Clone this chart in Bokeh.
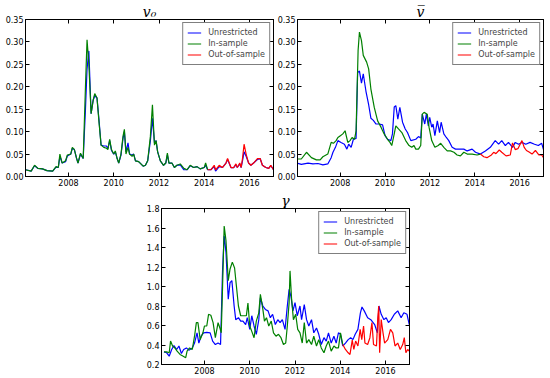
from bokeh.plotting import figure
from bokeh.models import (Range1d, FixedTicker, PrintfTickFormatter, LinearAxis,
                          Legend, LegendItem, Spacer)
from bokeh.layouts import column, row
from bokeh.embed import file_html
from bokeh.resources import INLINE

# ---------------- data ----------------
x_ticks = [2008, 2010, 2012, 2014, 2016]
x_tick_labels = ["2008", "2010", "2012", "2014", "2016"]
legend_labels = ["Unrestricted", "In-sample", "Out-of-sample"]
titles = ["v\u2080", "v\u0305", "\u03b3"]

# v0 panel
v0_in_x = [2006.10, 2006.35, 2006.50, 2006.65, 2006.85, 2007.05, 2007.30, 2007.45, 2007.55, 2007.62,
           2007.72, 2007.87, 2007.95, 2008.10, 2008.17, 2008.26, 2008.36, 2008.42, 2008.53, 2008.65,
           2008.75, 2008.82, 2008.90, 2009.00, 2009.09, 2009.16, 2009.26, 2009.35, 2009.44, 2009.56,
           2009.68, 2009.74, 2009.82, 2009.90, 2010.00, 2010.07, 2010.15, 2010.22, 2010.32, 2010.41,
           2010.47, 2010.54, 2010.63, 2010.70, 2010.81, 2010.88, 2010.96, 2011.10, 2011.30, 2011.40,
           2011.50, 2011.62, 2011.71, 2011.80, 2011.87, 2011.94, 2012.06, 2012.20, 2012.30, 2012.37,
           2012.44, 2012.57, 2012.68, 2012.79, 2012.94, 2013.10, 2013.24, 2013.38, 2013.53, 2013.68,
           2013.82, 2014.00, 2014.06, 2014.15]
v0_in_y = [0.015, 0.012, 0.025, 0.018, 0.017, 0.013, 0.012, 0.022, 0.020, 0.050,
           0.030, 0.035, 0.048, 0.050, 0.065, 0.060, 0.040, 0.030, 0.052, 0.040,
           0.200, 0.305, 0.250, 0.140, 0.170, 0.185, 0.175, 0.120, 0.070, 0.065,
           0.063, 0.060, 0.083, 0.060, 0.050, 0.057, 0.040, 0.030, 0.050, 0.090,
           0.105, 0.050, 0.065, 0.050, 0.045, 0.050, 0.035, 0.033, 0.023, 0.025,
           0.035, 0.090, 0.160, 0.070, 0.080, 0.055, 0.035, 0.025, 0.030, 0.052,
           0.030, 0.030, 0.020, 0.025, 0.028, 0.018, 0.015, 0.025, 0.020, 0.022,
           0.017, 0.020, 0.030, 0.015]
v0_out_x = [2014.15, 2014.29, 2014.44, 2014.50, 2014.66, 2014.80, 2014.96, 2015.03, 2015.18, 2015.30,
            2015.40, 2015.46, 2015.57, 2015.63, 2015.69, 2015.76, 2015.85, 2015.96, 2016.06, 2016.18,
            2016.35, 2016.47, 2016.57, 2016.72, 2016.85, 2016.94, 2017.00, 2017.06]
v0_out_y = [0.015, 0.015, 0.025, 0.015, 0.025, 0.020, 0.030, 0.040, 0.020, 0.020,
            0.028, 0.020, 0.030, 0.020, 0.040, 0.072, 0.050, 0.030, 0.025, 0.030,
            0.040, 0.040, 0.025, 0.020, 0.018, 0.025, 0.020, 0.015]
v0_un_x = v0_in_x + v0_out_x[1:]
v0_un_y = [0.015, 0.012, 0.024, 0.018, 0.017, 0.013, 0.012, 0.021, 0.020, 0.045,
           0.030, 0.033, 0.046, 0.050, 0.063, 0.060, 0.040, 0.030, 0.050, 0.040,
           0.150, 0.240, 0.280, 0.140, 0.170, 0.180, 0.175, 0.125, 0.070, 0.068,
           0.068, 0.062, 0.080, 0.058, 0.050, 0.055, 0.040, 0.030, 0.048, 0.085,
           0.100, 0.055, 0.075, 0.050, 0.048, 0.050, 0.035, 0.033, 0.023, 0.025,
           0.035, 0.080, 0.130, 0.075, 0.080, 0.055, 0.035, 0.025, 0.030, 0.048,
           0.030, 0.030, 0.020, 0.025, 0.026, 0.015, 0.015, 0.024, 0.020, 0.022,
           0.017, 0.020, 0.025, 0.015,
           0.015, 0.022, 0.012, 0.022, 0.020, 0.030, 0.038, 0.020, 0.020,
           0.026, 0.020, 0.028, 0.020, 0.035, 0.055, 0.045, 0.030, 0.025, 0.030,
           0.038, 0.040, 0.025, 0.020, 0.018, 0.024, 0.020, 0.015]

# v-bar panel
vb_un_x = [2006.08, 2006.27, 2006.57, 2006.79, 2007.01, 2007.23, 2007.45, 2007.60, 2007.68, 2007.79,
           2007.90, 2008.04, 2008.19, 2008.30, 2008.38, 2008.49, 2008.59, 2008.71, 2008.78, 2008.86,
           2008.95, 2009.03, 2009.15, 2009.27, 2009.37, 2009.48, 2009.60, 2009.74, 2009.89, 2010.00,
           2010.11, 2010.26, 2010.33, 2010.41, 2010.48, 2010.57, 2010.66, 2010.78, 2010.90, 2011.00,
           2011.15, 2011.37, 2011.49, 2011.59, 2011.66, 2011.77, 2011.84, 2011.93, 2011.99, 2012.08,
           2012.14, 2012.22, 2012.33, 2012.43, 2012.50, 2012.62, 2012.73, 2012.84, 2012.99, 2013.14,
           2013.36, 2013.51, 2013.66, 2013.88, 2014.03, 2014.25, 2014.47, 2014.69, 2014.91, 2015.06,
           2015.20, 2015.36, 2015.50, 2015.68, 2015.80, 2015.95, 2016.10, 2016.27, 2016.46, 2016.66,
           2016.83, 2016.98, 2017.06]
vb_un_y = [0.030, 0.027, 0.030, 0.028, 0.029, 0.026, 0.028, 0.042, 0.054, 0.065,
           0.080, 0.076, 0.072, 0.061, 0.072, 0.065, 0.083, 0.085, 0.232, 0.235,
           0.208, 0.229, 0.190, 0.160, 0.130, 0.125, 0.117, 0.117, 0.115, 0.091,
           0.083, 0.080, 0.095, 0.155, 0.158, 0.128, 0.154, 0.121, 0.106, 0.098,
           0.080, 0.083, 0.089, 0.086, 0.139, 0.117, 0.139, 0.113, 0.132, 0.110,
           0.117, 0.091, 0.124, 0.098, 0.121, 0.095, 0.087, 0.080, 0.065, 0.061,
           0.061, 0.061, 0.057, 0.061, 0.054, 0.050, 0.057, 0.065, 0.080, 0.072,
           0.080, 0.069, 0.076, 0.065, 0.076, 0.072, 0.076, 0.072, 0.076, 0.072,
           0.069, 0.074, 0.060]
vb_in_x = [2006.08, 2006.27, 2006.50, 2006.72, 2006.94, 2007.11, 2007.23, 2007.45, 2007.60, 2007.70,
           2007.82, 2007.90, 2008.01, 2008.12, 2008.22, 2008.34, 2008.44, 2008.53, 2008.64, 2008.71,
           2008.80, 2008.86, 2008.95, 2009.03, 2009.18, 2009.27, 2009.37, 2009.52, 2009.67, 2009.82,
           2009.96, 2010.11, 2010.22, 2010.30, 2010.41, 2010.48, 2010.60, 2010.75, 2010.92, 2011.07,
           2011.19, 2011.29, 2011.37, 2011.49, 2011.59, 2011.66, 2011.74, 2011.88, 2011.96, 2012.08,
           2012.22, 2012.37, 2012.48, 2012.62, 2012.77, 2012.92, 2013.07, 2013.21, 2013.36, 2013.51,
           2013.66, 2013.88, 2014.10, 2014.25]
vb_in_y = [0.039, 0.039, 0.054, 0.042, 0.037, 0.037, 0.044, 0.050, 0.076, 0.074,
           0.080, 0.087, 0.091, 0.095, 0.102, 0.076, 0.080, 0.087, 0.083, 0.102,
           0.281, 0.322, 0.303, 0.270, 0.255, 0.240, 0.195, 0.154, 0.124, 0.110,
           0.095, 0.083, 0.076, 0.069, 0.095, 0.113, 0.106, 0.098, 0.080, 0.069,
           0.065, 0.069, 0.061, 0.061, 0.069, 0.139, 0.143, 0.139, 0.110, 0.080,
           0.065, 0.069, 0.074, 0.065, 0.057, 0.057, 0.054, 0.048, 0.046, 0.054,
           0.050, 0.050, 0.048, 0.050]
vb_out_x = [2014.25, 2014.40, 2014.54, 2014.74, 2014.84, 2014.94, 2015.09, 2015.20, 2015.39, 2015.58,
            2015.68, 2015.80, 2015.92, 2016.10, 2016.20, 2016.30, 2016.40, 2016.55, 2016.70, 2016.85,
            2016.98, 2017.06]
vb_out_y = [0.050, 0.044, 0.042, 0.048, 0.054, 0.051, 0.059, 0.054, 0.046, 0.048,
            0.075, 0.060, 0.062, 0.080, 0.065, 0.058, 0.055, 0.050, 0.058, 0.048,
            0.048, 0.042]

# gamma panel
g_un_x = [2006.21, 2006.33, 2006.44, 2006.55, 2006.65, 2006.77, 2006.87, 2006.98, 2007.08, 2007.20,
          2007.31, 2007.46, 2007.56, 2007.67, 2007.75, 2007.85, 2007.96, 2008.10, 2008.25, 2008.36,
          2008.48, 2008.60, 2008.71, 2008.80, 2008.87, 2008.95, 2009.05, 2009.13, 2009.21, 2009.31,
          2009.38, 2009.50, 2009.60, 2009.70, 2009.82, 2009.89, 2010.00, 2010.09, 2010.19, 2010.29,
          2010.40, 2010.47, 2010.58, 2010.69, 2010.81, 2010.91, 2011.01, 2011.13, 2011.24, 2011.34,
          2011.44, 2011.56, 2011.66, 2011.74, 2011.82, 2011.91, 2012.00, 2012.10, 2012.22, 2012.29,
          2012.41, 2012.51, 2012.61, 2012.73, 2012.83, 2012.95, 2013.05, 2013.16, 2013.28, 2013.38,
          2013.48, 2013.60, 2013.72, 2013.82, 2013.92, 2014.01, 2014.11, 2014.23, 2014.35, 2014.46,
          2014.56, 2014.66, 2014.78, 2014.89, 2014.96, 2015.06, 2015.21, 2015.35, 2015.52, 2015.64,
          2015.71, 2015.81, 2015.93, 2016.03, 2016.13, 2016.25, 2016.39, 2016.54, 2016.69, 2016.81,
          2016.95, 2017.05]
g_un_y = [0.33, 0.32, 0.285, 0.354, 0.395, 0.354, 0.39, 0.313, 0.354, 0.37,
          0.347, 0.37, 0.42, 0.525, 0.42, 0.49, 0.525, 0.53, 0.525, 0.44,
          0.405, 0.42, 0.405, 1.18, 1.52, 1.35, 0.87, 1.04, 1.06, 0.80,
          0.66, 0.68, 0.645, 0.645, 0.61, 0.68, 0.56, 0.70, 0.595, 0.51,
          0.66, 0.885, 0.80, 0.765, 0.75, 0.68, 0.715, 0.61, 0.66, 0.63,
          0.66, 0.56, 0.80, 0.97, 0.90, 0.75, 0.835, 0.70, 0.80, 0.66,
          0.815, 0.66, 0.595, 0.66, 0.525, 0.575, 0.51, 0.405, 0.475, 0.44,
          0.525, 0.42, 0.49, 0.42, 0.525, 0.51, 0.39, 0.42, 0.455, 0.475,
          0.455, 0.51, 0.56, 0.73, 0.79, 0.75, 0.68, 0.66, 0.61, 0.525,
          0.80, 0.715, 0.66, 0.68, 0.63, 0.66, 0.715, 0.75, 0.68, 0.73,
          0.715, 0.61]
g_in_x = [2006.21, 2006.33, 2006.44, 2006.50, 2006.59, 2006.69, 2006.79, 2006.92, 2007.06, 2007.17,
          2007.23, 2007.34, 2007.46, 2007.56, 2007.64, 2007.71, 2007.81, 2007.93, 2008.00, 2008.10,
          2008.18, 2008.28, 2008.38, 2008.48, 2008.60, 2008.68, 2008.74, 2008.80, 2008.87, 2008.95,
          2009.05, 2009.13, 2009.23, 2009.33, 2009.41, 2009.50, 2009.60, 2009.75, 2009.85, 2009.92,
          2010.00, 2010.09, 2010.19, 2010.29, 2010.40, 2010.47, 2010.58, 2010.65, 2010.74, 2010.84,
          2010.95, 2011.05, 2011.16, 2011.27, 2011.38, 2011.49, 2011.59, 2011.66, 2011.74, 2011.78,
          2011.85, 2011.93, 2012.03, 2012.12, 2012.22, 2012.32, 2012.41, 2012.51, 2012.61, 2012.73,
          2012.83, 2012.95, 2013.05, 2013.16, 2013.28, 2013.38, 2013.48, 2013.60, 2013.72, 2013.82,
          2013.92, 2014.01, 2014.11]
g_in_y = [0.33, 0.33, 0.32, 0.44, 0.39, 0.37, 0.337, 0.303, 0.285, 0.27,
          0.337, 0.37, 0.354, 0.49, 0.63, 0.63, 0.455, 0.525, 0.595, 0.595,
          0.715, 0.705, 0.63, 0.475, 0.63, 0.575, 0.525, 1.005, 1.62, 1.47,
          1.06, 1.18, 1.25, 1.19, 1.005, 0.80, 0.70, 0.70, 0.70, 0.83,
          0.595, 0.54, 0.475, 0.645, 0.73, 0.92, 0.765, 0.645, 0.68, 0.595,
          0.645, 0.525, 0.49, 0.51, 0.475, 0.405, 0.42, 0.595, 0.835, 1.16,
          0.87, 0.66, 0.715, 0.56, 0.525, 0.42, 0.63, 0.42, 0.455, 0.405,
          0.49, 0.39, 0.455, 0.37, 0.32, 0.39, 0.44, 0.337, 0.39, 0.37,
          0.37, 0.525, 0.405]
g_out_x = [2014.11, 2014.23, 2014.35, 2014.43, 2014.53, 2014.60, 2014.68, 2014.78, 2014.88, 2014.95,
           2015.03, 2015.09, 2015.21, 2015.31, 2015.40, 2015.47, 2015.60, 2015.66, 2015.70, 2015.74,
           2015.81, 2015.89, 2015.96, 2016.10, 2016.22, 2016.32, 2016.42, 2016.54, 2016.65, 2016.76,
           2016.83, 2016.90, 2016.98, 2017.05]
g_out_y = [0.405, 0.354, 0.32, 0.303, 0.45, 0.354, 0.44, 0.39, 0.56, 0.455,
           0.595, 0.42, 0.405, 0.475, 0.63, 0.405, 0.39, 0.68, 0.80, 0.32,
           0.66, 0.525, 0.42, 0.455, 0.56, 0.525, 0.39, 0.42, 0.354, 0.405,
           0.475, 0.32, 0.354, 0.337]

# ---------------- styling ----------------
X0, X1 = 2006.10, 2017.06
FONT = "DejaVu Sans"
BLUE, GREEN, RED = "#0000ff", "#008000", "#ff0000"


def style_axis(ax, show_labels=True):
    ax.axis_line_color = "black"
    ax.major_tick_line_color = "black"
    ax.major_tick_in = 4
    ax.major_tick_out = 0
    ax.minor_tick_line_color = None
    ax.major_label_text_font = FONT
    if show_labels:
        ax.major_label_text_color = "black"
        ax.major_label_text_font_size = "8px"
        ax.major_label_standoff = 2
    else:
        ax.major_label_text_color = None
        ax.major_label_text_font_size = "1px"
        ax.major_label_standoff = 0


def make_panel(width, height, borders, y_lo, y_hi, y_ticks, fmt, title, series):
    bl, br, bt, bb = borders
    p = figure(width=width, height=height, x_range=Range1d(X0, X1), y_range=Range1d(y_lo, y_hi),
               output_backend="svg", toolbar_location=None, title=title,
               min_border_left=bl, min_border_right=br, min_border_top=bt, min_border_bottom=bb)
    p.title.align = "center"
    p.title.text_font = "DejaVu Serif"
    p.title.text_font_style = "italic"
    p.title.text_font_size = "14px"
    p.title.text_color = "black"
    p.title.standoff = 0
    p.title.offset = 0
    p.grid.visible = False
    p.outline_line_color = "black"
    p.outline_line_width = 1
    p.background_fill_color = "white"
    p.border_fill_color = "white"
    p.xaxis.ticker = FixedTicker(ticks=x_ticks)
    p.xaxis.major_label_overrides = {t: s for t, s in zip(x_ticks, x_tick_labels)}
    p.yaxis.ticker = FixedTicker(ticks=y_ticks)
    p.yaxis.formatter = PrintfTickFormatter(format=fmt)
    for ax in p.xaxis + p.yaxis:
        style_axis(ax)
    ra = LinearAxis(ticker=FixedTicker(ticks=y_ticks))
    style_axis(ra, False)
    p.add_layout(ra, "right")
    ta = LinearAxis(ticker=FixedTicker(ticks=x_ticks))
    style_axis(ta, False)
    p.add_layout(ta, "above")

    rends = []
    for (xs, ys), col in zip(series, [BLUE, GREEN, RED]):
        rends.append(p.line(xs, ys, line_color=col, line_width=1.2))

    leg = Legend(items=[LegendItem(label=lab, renderers=[r]) for lab, r in zip(legend_labels, rends)],
                 location="top_right", margin=3, padding=4, spacing=0,
                 glyph_width=14, glyph_height=11, label_height=11, label_standoff=7,
                 label_text_font=FONT, label_text_font_size="8px",
                 border_line_color="black", border_line_width=1,
                 background_fill_color="white", background_fill_alpha=1.0)
    p.add_layout(leg)
    return p


v_ticks = [0.0, 0.05, 0.10, 0.15, 0.20, 0.25, 0.30, 0.35]
g_ticks = [0.2, 0.4, 0.6, 0.8, 1.0, 1.2, 1.4, 1.6, 1.8]

p1 = make_panel(274, 190, (25, 1, 19, 14), 0.0, 0.35, v_ticks, "%.2f", titles[0],
                [(v0_un_x, v0_un_y), (v0_in_x, v0_in_y), (v0_out_x, v0_out_y)])
p2 = make_panel(272, 190, (21, 3, 19, 14), 0.0, 0.35, v_ticks, "%.2f", titles[1],
                [(vb_un_x, vb_un_y), (vb_in_x, vb_in_y), (vb_out_x, vb_out_y)])
p3 = make_panel(271, 188, (21, 2, 17, 14), 0.2, 1.8, g_ticks, "%.1f", titles[2],
                [(g_un_x, g_un_y), (g_in_x, g_in_y), (g_out_x, g_out_y)])

layout = column(row(p1, p2), row(Spacer(width=140, height=188), p3))

open("out.html", "w").write(file_html(layout, INLINE))
